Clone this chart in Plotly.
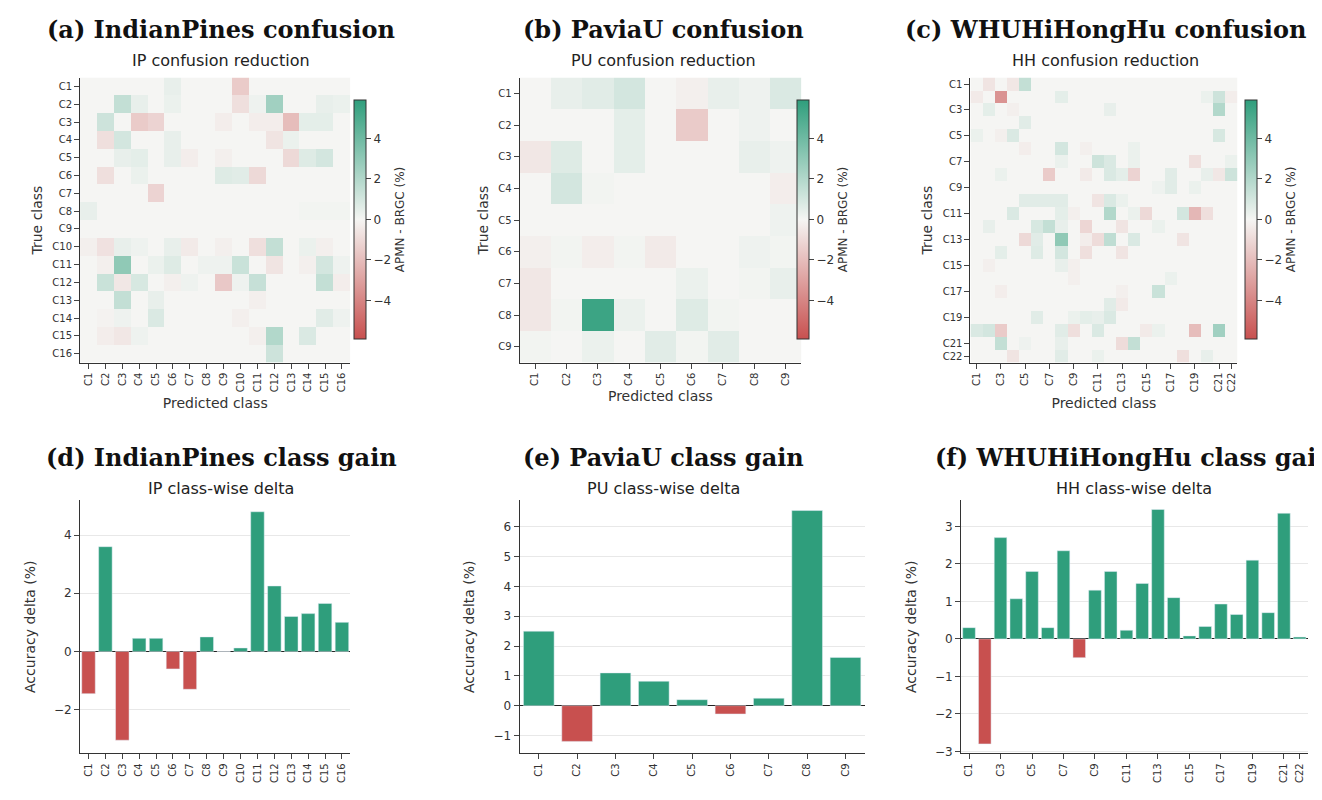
import numpy as np
import plotly.graph_objects as go

# --- data ---
ip_classes = [f"C{i}" for i in range(1, 17)]
pu_classes = [f"C{i}" for i in range(1, 10)]
hh_classes = [f"C{i}" for i in range(1, 23)]

# sparse confusion deltas: (true, predicted, delta %)
ip_cells = [
    (1, 6, 0.4), (1, 10, -1.5),
    (2, 3, 1.5), (2, 4, 0.4), (2, 6, 0.3), (2, 10, -0.8), (2, 11, 0.2), (2, 12, 2.5), (2, 15, 0.4), (2, 16, 0.3),
    (3, 2, 1.2), (3, 4, -1.5), (3, 5, -1.2), (3, 9, -0.3), (3, 11, -0.3), (3, 12, -0.3), (3, 13, -2.0), (3, 14, 0.5), (3, 15, 0.5),
    (4, 2, -0.8), (4, 3, 1.0), (4, 6, 0.4), (4, 12, -0.6), (4, 13, 0.3),
    (5, 3, 0.4), (5, 4, 0.5), (5, 6, 0.4), (5, 7, -0.3), (5, 9, -0.2), (5, 13, -1.0), (5, 14, 0.7), (5, 15, 1.0),
    (6, 2, -0.8), (6, 4, 0.3), (6, 9, 0.7), (6, 10, 0.6), (6, 11, -1.0),
    (7, 5, -1.2),
    (8, 1, 0.4), (8, 14, 0.1), (8, 15, 0.1), (8, 16, 0.1),
    (10, 1, -0.2), (10, 2, -0.7), (10, 3, 0.4), (10, 4, 0.2), (10, 6, 0.4), (10, 7, -0.4), (10, 9, -0.2), (10, 11, -0.8), (10, 12, 1.5), (10, 14, 0.3), (10, 15, -0.2),
    (11, 2, -0.2), (11, 3, 3.0), (11, 5, 0.3), (11, 6, 0.7), (11, 8, 0.2), (11, 9, 0.2), (11, 10, 1.3), (11, 12, -0.6), (11, 14, -0.2), (11, 15, 1.0), (11, 16, 0.2),
    (12, 2, 1.3), (12, 3, -0.5), (12, 4, 0.9), (12, 6, -0.2), (12, 7, 0.2), (12, 9, -1.6), (12, 10, 0.2), (12, 11, 1.4), (12, 15, 1.5), (12, 16, -0.3),
    (13, 3, 1.5), (13, 5, 0.4), (13, 11, -0.2),
    (14, 2, -0.1), (14, 3, 0.2), (14, 5, 0.8), (14, 10, -0.2), (14, 15, 0.6), (14, 16, 0.2),
    (15, 2, -0.3), (15, 3, -0.5), (15, 4, 0.2), (15, 11, -0.2), (15, 12, 2.0), (15, 14, 0.8),
    (16, 12, 1.2),
]
pu_cells = [
    (1, 2, 0.4), (1, 3, 0.6), (1, 4, 1.0), (1, 6, -0.2), (1, 7, 0.4), (1, 8, 0.2), (1, 9, 0.8),
    (2, 4, 0.5), (2, 6, -1.5), (2, 8, 0.2),
    (3, 1, -0.5), (3, 2, 0.7), (3, 4, 0.5), (3, 8, 0.4), (3, 9, 0.2),
    (4, 2, 1.0), (4, 3, 0.1), (4, 9, -0.3),
    (5, 9, 0.2),
    (6, 1, -0.2), (6, 2, 0.1), (6, 3, -0.3), (6, 4, 0.1), (6, 5, -0.4), (6, 8, 0.2), (6, 9, 0.1),
    (7, 1, -0.5), (7, 6, 0.3), (7, 8, 0.1), (7, 9, 0.4),
    (8, 1, -0.5), (8, 2, 0.1), (8, 3, 5.5), (8, 4, 0.3), (8, 6, 0.7), (8, 7, 0.1),
    (9, 1, 0.1), (9, 3, 0.3), (9, 5, 0.6), (9, 6, 0.1), (9, 7, 0.6),
]
hh_cells = [
    (1, 2, -0.6), (1, 4, -0.5), (1, 5, 1.5),
    (2, 1, -0.4), (2, 3, -3.5), (2, 8, 0.5), (2, 20, 0.3), (2, 21, 1.2), (2, 22, -0.3),
    (3, 2, 0.5), (3, 4, -0.2), (3, 12, 0.4), (3, 21, 2.0),
    (4, 5, 0.6),
    (5, 1, 0.3), (5, 3, -0.2), (5, 4, 0.8), (5, 21, 0.9),
    (6, 5, -0.3), (6, 8, 1.0), (6, 10, -0.2), (6, 14, 0.3),
    (7, 8, 0.3), (7, 11, 1.2), (7, 12, 0.8), (7, 14, 0.3), (7, 19, -0.8), (7, 22, 0.3),
    (8, 3, 0.3), (8, 7, -1.5), (8, 10, -0.4), (8, 12, 0.8), (8, 13, 0.5), (8, 14, -1.2), (8, 17, 0.6), (8, 20, 0.4), (8, 21, -0.5), (8, 22, 1.2),
    (9, 16, 0.2), (9, 17, 0.6), (9, 19, 0.3),
    (10, 5, 0.6), (10, 6, 0.6), (10, 7, 0.6), (10, 8, 0.6), (10, 11, -0.6), (10, 12, 0.8), (10, 13, 0.3),
    (11, 4, 0.8), (11, 8, 0.5), (11, 9, -0.2), (11, 12, 2.0), (11, 14, 0.3), (11, 15, -1.0), (11, 18, 1.0), (11, 19, -2.2), (11, 20, -0.8),
    (12, 2, 0.4), (12, 6, 0.9), (12, 7, 1.5), (12, 8, 0.4), (12, 10, -1.1), (12, 13, -0.6), (12, 16, 0.3),
    (13, 5, -1.0), (13, 6, 0.6), (13, 8, 3.0), (13, 10, -0.3), (13, 11, -0.9), (13, 12, 1.6), (13, 14, 0.8), (13, 18, -0.6),
    (14, 3, 0.5), (14, 6, 0.7), (14, 8, 1.0), (14, 10, -0.8), (14, 13, -0.6),
    (15, 2, -0.2), (15, 8, 0.4), (15, 9, -0.2),
    (16, 9, -0.2), (16, 17, 0.3),
    (17, 3, -0.3), (17, 13, -0.2), (17, 16, 1.3),
    (18, 12, 0.6), (18, 13, -0.4),
    (19, 6, 0.6), (19, 9, 0.3), (19, 10, 0.5), (19, 11, 0.4), (19, 12, 0.8),
    (20, 1, 0.8), (20, 2, 1.0), (20, 3, -1.5), (20, 8, 0.6), (20, 9, -0.8), (20, 11, 0.8), (20, 15, -0.4), (20, 16, 0.3), (20, 19, -2.0), (20, 21, 2.5),
    (21, 3, 1.5), (21, 5, 0.2), (21, 8, 0.4), (21, 13, -0.9), (21, 14, 1.5),
    (22, 4, -0.6), (22, 8, 0.6), (22, 11, 0.3), (22, 18, -0.8), (22, 20, 0.4),
]

ip_gain = [-1.45, 3.6, -3.05, 0.45, 0.45, -0.6, -1.3, 0.5, 0.0, 0.12, 4.8, 2.25, 1.2, 1.3, 1.65, 1.0]
pu_gain = [2.5, -1.2, 1.1, 0.82, 0.2, -0.28, 0.25, 6.55, 1.62]
hh_gain = [0.3, -2.8, 2.7, 1.07, 1.8, 0.3, 2.35, -0.5, 1.3, 1.8, 0.23, 1.48, 3.45, 1.1, 0.08,
           0.33, 0.93, 0.65, 2.1, 0.7, 3.35, 0.05]

hh_ticks = [f"C{i}" for i in range(1, 22, 2)] + ["C22"]

GREEN = "#2f9e7c"
RED = "#c8504f"
scale = [[0, RED], [0.5, "#f5f5f3"], [1, GREEN]]
ZMAX = 5.9


def dense(n, cells):
    m = np.zeros((n, n))
    for r, c, v in cells:
        m[r - 1, c - 1] = v
    return m


fig = go.Figure()

panels = [
    ("IP", ip_classes, ip_cells, ip_gain, (0.0545, 0.259), (0.0545, 0.259), 0.262, ip_classes, ip_classes),
    ("PU", pu_classes, pu_cells, pu_gain, (0.387, 0.600), (0.387, 0.648), 0.597, pu_classes, pu_classes),
    ("HH", hh_classes, hh_cells, hh_gain, (0.728, 0.930), (0.721, 0.983), 0.936, hh_ticks, hh_ticks),
]
tick_font = dict(family="DejaVu Sans", size=10, color="#333")
axis_title_font = dict(family="DejaVu Sans", size=14, color="#333")
for i, (name, cls, cells, gain, hdom, bdom, cbx, ticks, bticks) in enumerate(panels):
    hx = hy = 2 * i + 1
    bx = by = 2 * i + 2
    fig.add_trace(go.Heatmap(
        z=dense(len(cls), cells), x=cls, y=cls, colorscale=scale, zmin=-ZMAX, zmax=ZMAX,
        xaxis=f"x{hx}", yaxis=f"y{hy}",
        colorbar=dict(x=cbx, xanchor="left", xpad=0, ypad=0, y=0.734, len=0.30, thickness=12,
                      outlinecolor="#333", outlinewidth=1, tickvals=[-4, -2, 0, 2, 4],
                      ticktext=["\u22124", "\u22122", "0", "2", "4"], ticks="outside",
                      tickfont=dict(family="DejaVu Sans", size=12, color="#333"),
                      title=dict(text="APMN - BRGC (%)", side="right",
                                 font=dict(family="DejaVu Sans", size=12, color="#333"))),
    ))
    fig.add_trace(go.Bar(
        x=cls, y=gain, marker_color=[GREEN if v >= 0 else RED for v in gain],
        xaxis=f"x{bx}", yaxis=f"y{by}", width=0.8, showlegend=False,
    ))
    fig.layout[f"xaxis{hx}"] = dict(
        domain=list(hdom), anchor=f"y{hy}", tickangle=-90, tickfont=tick_font,
        ticks="outside", showline=True, linecolor="#333", tickvals=ticks,
        title=dict(text="Predicted class", font=axis_title_font, standoff=6))
    fig.layout[f"yaxis{hy}"] = dict(
        domain=[0.554, 0.9125], anchor=f"x{hx}", autorange="reversed", tickfont=tick_font,
        ticks="outside", showline=True, linecolor="#333", tickvals=ticks,
        title=dict(text="True class", font=axis_title_font, standoff=6))
    fig.layout[f"xaxis{bx}"] = dict(
        domain=list(bdom), anchor=f"y{by}", tickangle=-90, tickfont=tick_font,
        ticks="outside", showline=True, linecolor="#333", tickvals=bticks, showgrid=False)
    fig.layout[f"yaxis{by}"] = dict(
        domain=[0.0625, 0.381], anchor=f"x{bx}", ticks="outside", showline=True,
        linecolor="#333", gridcolor="#e8e8e8", zeroline=True, zerolinecolor="#222",
        zerolinewidth=1.2, tickfont=dict(family="DejaVu Sans", size=12, color="#333"),
        title=dict(text="Accuracy delta (%)", font=axis_title_font))

fig.layout.yaxis2.update(range=[-3.5, 5.2], tickvals=[-2, 0, 2, 4], ticktext=["\u22122", "0", "2", "4"])
fig.layout.yaxis4.update(range=[-1.6, 6.9], tickvals=[-1, 0, 1, 2, 3, 4, 5, 6],
                         ticktext=["\u22121", "0", "1", "2", "3", "4", "5", "6"])
fig.layout.yaxis6.update(range=[-3.05, 3.7], tickvals=[-3, -2, -1, 0, 1, 2, 3],
                         ticktext=["\u22123", "\u22122", "\u22121", "0", "1", "2", "3"])

titles = [
    ("(a) IndianPines confusion", "IP confusion reduction", 213, 22, 53),
    ("(b) PaviaU confusion", "PU confusion reduction", 655, 22, 53),
    ("(c) WHUHiHongHu confusion", "HH confusion reduction", 1097, 22, 53),
    ("(d) IndianPines class gain", "IP class-wise delta", 213, 452, 484),
    ("(e) PaviaU class gain", "PU class-wise delta", 655, 452, 484),
    ("(f) WHUHiHongHu class gain", "HH class-wise delta", 1126, 452, 484),
]
for big, small, x, yb, ys in titles:
    fig.add_annotation(text=f"<b>{big}</b>", x=x / 1322, y=1 - yb / 800, xref="paper", yref="paper",
                       xanchor="center", yanchor="middle", showarrow=False,
                       font=dict(family="DejaVu Serif", size=24, color="#111"))
    fig.add_annotation(text=small, x=x / 1322, y=1 - ys / 800, xref="paper", yref="paper",
                       xanchor="center", yanchor="middle", showarrow=False,
                       font=dict(family="DejaVu Sans", size=16, color="#222"))

fig.update_layout(width=1322, height=800, margin=dict(l=0, r=0, t=0, b=0),
                  plot_bgcolor="white", paper_bgcolor="white", showlegend=False, bargap=0.2)
fig.write_html("out.html")
